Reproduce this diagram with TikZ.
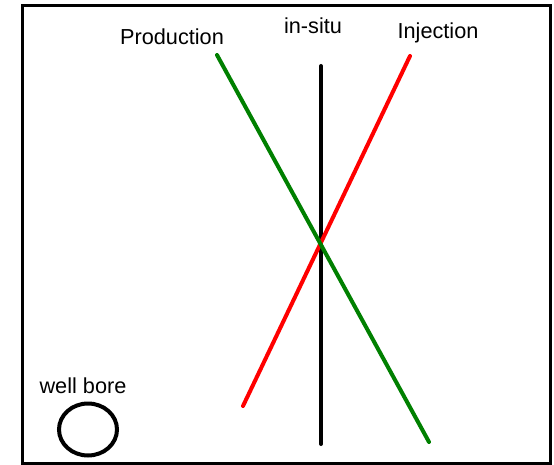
\documentclass[tikz,border=0pt]{standalone}
\usepackage{fontspec}
\setmainfont{Liberation Sans}
\usetikzlibrary{shapes.geometric}
\definecolor{pgreen}{RGB}{0,128,0}
\definecolor{pred}{RGB}{255,0,0}
\begin{document}
\begin{tikzpicture}[x=1pt,y=-1pt,
  lbl/.style={font=\fontsize{21.7}{24}\selectfont, anchor=base, inner sep=0pt},
  stroke/.style={line width=4pt, line cap=round}]
\useasboundingbox (0,0) rectangle (554,465);
\fill[white] (0,0) rectangle (554,465);
\draw[line width=3pt] (22.5,5.5) rectangle (550,463.5);
\node[lbl] (prod) at (172,45) {Production};
\node[lbl] (insitu) at (313,34) {in-situ};
\node[lbl] (inj) at (438,39) {Injection};
\node[lbl] (wb) at (83,393) {well bore};
\coordinate (gA) at (217,55);
\coordinate (gB) at (429,442);
\coordinate (rA) at (410,56);
\coordinate (rB) at (243,406);
\coordinate (kA) at (321,66);
\coordinate (kB) at (321,444);
\draw[stroke, black] (kA) -- (kB);
\draw[stroke, pred] (rA) -- (rB);
\draw[stroke, pgreen] (gA) -- (gB);
\node[draw, line width=4pt, ellipse, minimum width=58pt, minimum height=52pt, inner sep=0pt] (bore) at (88,429.5) {};
\end{tikzpicture}
\end{document}
